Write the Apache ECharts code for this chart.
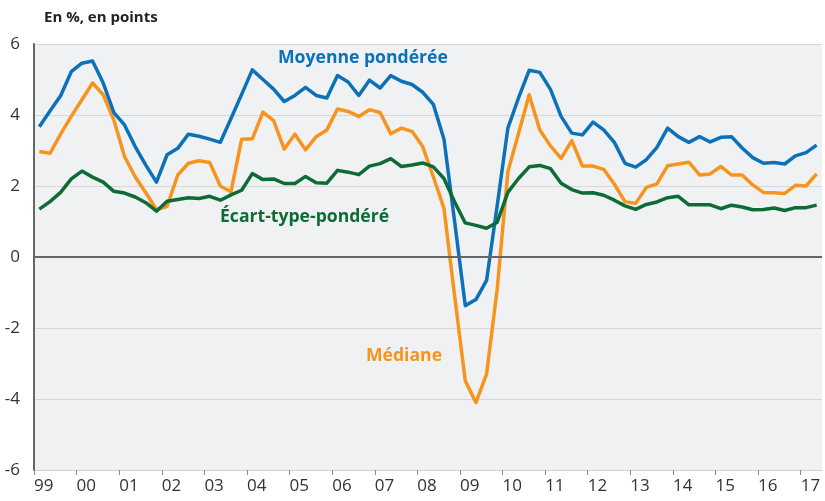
<!DOCTYPE html>
<html>
<head>
<meta charset="utf-8">
<script src="https://cdn.jsdelivr.net/npm/echarts@6/dist/echarts.min.js"></script>
<style>
    html, body { margin: 0; padding: 0; background: #fff; }
    #main { width: 825px; height: 501px; }
</style>
</head>
<body>
<div id="main"></div>
<script>
// trimestres 1999T1 -> 2017T2
var quarters = [];
for (var y = 1999; y <= 2017; y++) {
    for (var q = 1; q <= 4; q++) {
        if (y === 2017 && q > 2) break;
        quarters.push(y + 'T' + q);
    }
}
var yearLabels = ['99', '00', '01', '02', '03', '04', '05', '06', '07', '08',
                  '09', '10', '11', '12', '13', '14', '15', '16', '17'];

var moyenne = [3.67, 4.11, 4.54, 5.22, 5.46, 5.52, 4.90, 4.07, 3.72, 3.11,
               2.59, 2.11, 2.88, 3.06, 3.46, 3.40, 3.32, 3.23, 3.90, 4.58,
               5.27, 5.00, 4.73, 4.38, 4.55, 4.78, 4.55, 4.48, 5.11, 4.93,
               4.55, 4.98, 4.76, 5.11, 4.95, 4.86, 4.64, 4.30, 3.32, 1.00,
               -1.37, -1.20, -0.66, 1.45, 3.63, 4.48, 5.26, 5.20, 4.72, 3.96,
               3.49, 3.44, 3.80, 3.58, 3.23, 2.64, 2.53, 2.74, 3.09, 3.63,
               3.39, 3.23, 3.39, 3.24, 3.37, 3.39, 3.07, 2.80, 2.64, 2.66,
               2.62, 2.85, 2.94, 3.15];

var mediane = [2.97, 2.92, 3.46, 3.96, 4.43, 4.90, 4.57, 3.86, 2.83, 2.26,
               1.81, 1.33, 1.43, 2.31, 2.64, 2.71, 2.66, 2.00, 1.84, 3.32,
               3.33, 4.08, 3.84, 3.04, 3.46, 3.02, 3.39, 3.58, 4.17, 4.10,
               3.96, 4.15, 4.07, 3.47, 3.63, 3.54, 3.11, 2.26, 1.37, -1.10,
               -3.49, -4.10, -3.30, -0.90, 2.40, 3.48, 4.57, 3.58, 3.13, 2.78,
               3.28, 2.56, 2.56, 2.47, 2.05, 1.56, 1.51, 1.96, 2.06, 2.57,
               2.62, 2.67, 2.31, 2.34, 2.55, 2.31, 2.31, 2.03, 1.82, 1.81,
               1.79, 2.02, 2.00, 2.34];

var ecartType = [1.35, 1.56, 1.82, 2.20, 2.42, 2.25, 2.11, 1.85, 1.80, 1.69,
                 1.53, 1.29, 1.57, 1.62, 1.67, 1.65, 1.71, 1.60, 1.75, 1.88,
                 2.35, 2.18, 2.20, 2.07, 2.07, 2.27, 2.09, 2.08, 2.44, 2.39,
                 2.32, 2.56, 2.63, 2.77, 2.55, 2.59, 2.65, 2.54, 2.21, 1.55,
                 0.96, 0.89, 0.81, 0.98, 1.82, 2.21, 2.54, 2.58, 2.49, 2.08,
                 1.90, 1.80, 1.81, 1.74, 1.60, 1.44, 1.34, 1.48, 1.55, 1.67,
                 1.71, 1.47, 1.47, 1.47, 1.36, 1.46, 1.41, 1.33, 1.34, 1.38,
                 1.31, 1.39, 1.39, 1.46];

var yTicks = [-6, -4, -2, 0, 2, 4, 6];

// point au milieu du trimestre
function toPoints(values) {
    return values.map(function (v, i) { return [i + 0.5, v]; });
}

var font = '"Open Sans", "DejaVu Sans", sans-serif';

var myChart = echarts.init(document.getElementById('main'), null, {renderer: 'canvas'});

var option = {
    animation: false,
    backgroundColor: '#ffffff',
    grid: {
        left: 34,
        right: 3,
        top: 44,
        bottom: 31,
        show: true,
        backgroundColor: '#f0f1f3',
        borderWidth: 0
    },
    xAxis: {
        type: 'value',
        min: 0,
        max: quarters.length,
        interval: 4,
        axisLine: {show: true, onZero: false, lineStyle: {color: '#cfd0d3', width: 1}},
        axisTick: {show: true, length: 5, lineStyle: {color: '#8a8a8a', width: 1}},
        splitLine: {show: false},
        axisLabel: {
            showMaxLabel: false,
            align: 'left',
            margin: 8,
            fontFamily: font,
            fontSize: 17,
            color: '#333',
            formatter: function (v) {
                return v % 4 === 0 ? (yearLabels[v / 4] || '') : '';
            }
        }
    },
    yAxis: {
        type: 'value',
        min: yTicks[0],
        max: yTicks[yTicks.length - 1],
        interval: 2,
        axisLine: {show: true, lineStyle: {color: '#666', width: 2}},
        axisTick: {show: false},
        splitLine: {show: true, lineStyle: {color: '#d6d7da', width: 1}},
        axisLabel: {
            margin: 14,
            fontFamily: font,
            fontSize: 17,
            color: '#333'
        }
    },
    series: [
        {
            // ligne du zéro
            type: 'line',
            data: [],
            z: 1,
            markLine: {
                silent: true,
                symbol: 'none',
                label: {show: false},
                lineStyle: {color: '#666', width: 2, type: 'solid'},
                data: [{yAxis: 0}]
            }
        },
        {
            name: 'Médiane',
            type: 'line',
            data: toPoints(mediane),
            showSymbol: false,
            z: 3,
            lineStyle: {color: '#f7941d', width: 3.5, join: 'round'}
        },
        {
            name: 'Moyenne pondérée',
            type: 'line',
            data: toPoints(moyenne),
            showSymbol: false,
            z: 4,
            lineStyle: {color: '#0b71b9', width: 3.5, join: 'round'}
        },
        {
            name: 'Écart-type-pondéré',
            type: 'line',
            data: toPoints(ecartType),
            showSymbol: false,
            z: 5,
            lineStyle: {color: '#0d6b36', width: 3.5, join: 'round'}
        }
    ],
    graphic: [
        {
            type: 'text', left: 44, top: 10,
            style: {text: 'En %, en points', font: 'bold 15px ' + font, fill: '#222'}
        },
        {
            type: 'text', left: 278, top: 49,
            style: {text: 'Moyenne pondérée', font: 'bold 17.6px ' + font, fill: '#0b71b9'}
        },
        {
            type: 'text', left: 220, top: 208,
            style: {text: 'Écart-type-pondéré', font: 'bold 17.6px ' + font, fill: '#0d6b36'}
        },
        {
            type: 'text', left: 366, top: 347,
            style: {text: 'Médiane', font: 'bold 17.6px ' + font, fill: '#f7941d'}
        }
    ]
};

myChart.setOption(option);
</script>
</body>
</html>
